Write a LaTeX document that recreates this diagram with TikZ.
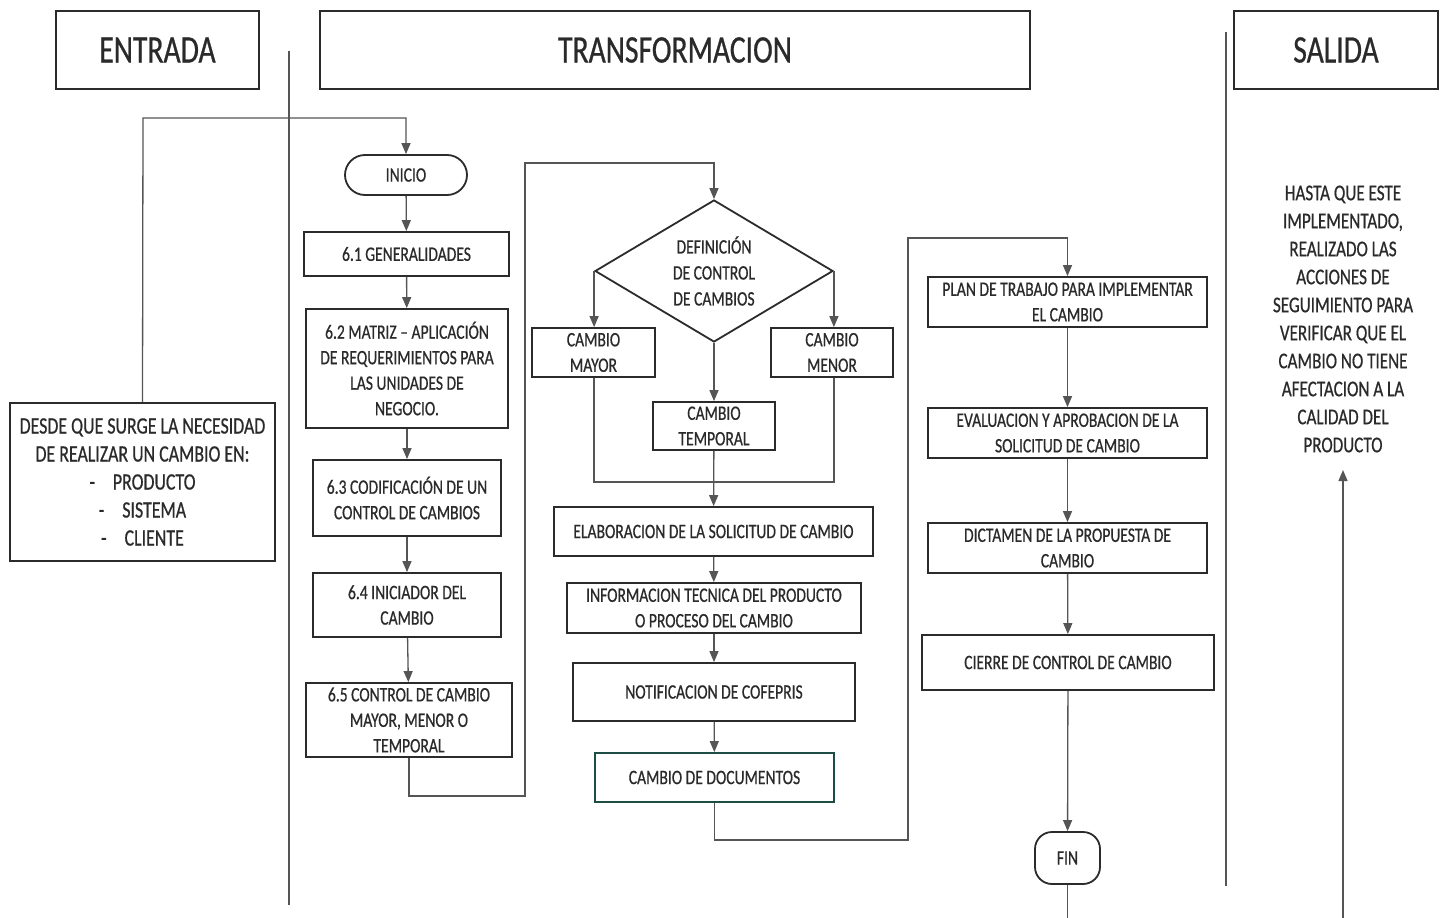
\documentclass[tikz,border=0pt]{standalone}
\usepackage{fontspec}
\setmainfont{Carlito}[FakeStretch=0.76,FakeBold=0.6]
\usetikzlibrary{shapes.geometric,arrows.meta,calc}
\definecolor{boxc}{HTML}{2B2B2B}
\definecolor{linec}{HTML}{555555}
\definecolor{txt}{HTML}{2A2A2A}
\definecolor{docsc}{HTML}{1E4D45}
\begin{document}
\begin{tikzpicture}[x=1pt,y=-1pt,
  box/.style={draw=boxc, line width=1.8pt, text=txt, align=center, inner sep=0pt,
    font=\fontsize{20.5}{25.5}\selectfont},
  head/.style={box, font=\fontsize{39}{44}\selectfont},
  conn/.style={draw=linec, line width=1.3pt},
  arr/.style={conn, -{Triangle[length=11pt,width=9pt]}},
  sepline/.style={draw=linec, line width=1.4pt},
]
\useasboundingbox (0,0) rectangle (1444,918);
\clip (0,0) rectangle (1444,918);
\fill[white] (0,0) rectangle (1444,918);

% headers
\node[head, minimum width=203pt, minimum height=78pt] (hEnt) at (157.5,50) {ENTRADA};
\node[head, minimum width=710pt, minimum height=78pt] (hTra) at (675,50) {TRANSFORMACION};
\node[head, minimum width=204pt, minimum height=78pt] (hSal) at (1336,50) {SALIDA};

% separator lines
\coordinate (s1a) at (289,51); \coordinate (s1b) at (289,905);
\coordinate (s2a) at (1226,32); \coordinate (s2b) at (1226,886);
\draw[sepline] (s1a) -- (s1b);
\draw[sepline] (s2a) -- (s2b);

% entrada
\node[box, minimum width=265pt, minimum height=158pt, font=\fontsize{23.5}{28}\selectfont] (desde) at (142.5,482)
  {DESDE QUE SURGE LA NECESIDAD\\DE REALIZAR UN CAMBIO EN:\\-\hspace{18pt}PRODUCTO\\-\hspace{18pt}SISTEMA\\-\hspace{18pt}CLIENTE};

% column 1
\node[box, minimum width=122pt, minimum height=40pt, rounded corners=20pt] (inicio) at (406,175) {INICIO};
\node[box, minimum width=205pt, minimum height=44pt] (g61) at (406.5,254) {6.1 GENERALIDADES};
\node[box, minimum width=202pt, minimum height=119pt] (g62) at (407,368.5) {6.2 MATRIZ -- APLICACIÓN\\DE REQUERIMIENTOS PARA\\LAS UNIDADES DE\\NEGOCIO.};
\node[box, minimum width=188pt, minimum height=76pt] (g63) at (407,498) {6.3 CODIFICACIÓN DE UN\\CONTROL DE CAMBIOS};
\node[box, minimum width=188pt, minimum height=64pt] (g64) at (407,605) {6.4 INICIADOR DEL\\CAMBIO};
\node[box, minimum width=206pt, minimum height=74pt] (g65) at (409,720) {6.5 CONTROL DE CAMBIO\\MAYOR, MENOR O\\TEMPORAL};

% column 2
\node[box, diamond, aspect=1.68, minimum width=238pt, minimum height=142pt, font=\fontsize{20.5}{26}\selectfont] (dia) at (714,271) {DEFINICIÓN\\DE CONTROL\\DE CAMBIOS};
\node[box, minimum width=123pt, minimum height=49pt] (mayor) at (593.5,352.5) {CAMBIO\\MAYOR};
\node[box, minimum width=122pt, minimum height=49pt] (menor) at (832,352.5) {CAMBIO\\MENOR};
\node[box, minimum width=122pt, minimum height=48pt] (temporal) at (714,426) {CAMBIO\\TEMPORAL};
\node[box, minimum width=319pt, minimum height=49pt] (elab) at (713.5,531.5) {ELABORACION DE LA SOLICITUD DE CAMBIO};
\node[box, minimum width=294pt, minimum height=50pt] (info) at (714,608) {INFORMACION TECNICA DEL PRODUCTO\\O PROCESO DEL CAMBIO};
\node[box, minimum width=282pt, minimum height=58pt] (notif) at (714,692) {NOTIFICACION DE COFEPRIS};
\node[box, draw=docsc, minimum width=239pt, minimum height=49pt] (docs) at (714.5,777.5) {CAMBIO DE DOCUMENTOS};

% column 3
\node[box, minimum width=279pt, minimum height=50pt] (plan) at (1067.5,302) {PLAN DE TRABAJO PARA IMPLEMENTAR\\EL CAMBIO};
\node[box, minimum width=279pt, minimum height=50pt] (eval) at (1067.5,433) {EVALUACION Y APROBACION DE LA\\SOLICITUD DE CAMBIO};
\node[box, minimum width=279pt, minimum height=50pt] (dict) at (1067.5,548) {DICTAMEN DE LA PROPUESTA DE\\CAMBIO};
\node[box, minimum width=292pt, minimum height=55pt] (cierre) at (1068,662.5) {CIERRE DE CONTROL DE CAMBIO};
\node[box, minimum width=65pt, minimum height=52pt, rounded corners=17pt] (fin) at (1067.5,858) {FIN};

% salida text
\node[text=txt, align=center, inner sep=0pt, font=\fontsize{22.5}{28}\selectfont] (saltxt) at (1343,319)
  {HASTA QUE ESTE\\IMPLEMENTADO,\\REALIZADO LAS\\ACCIONES DE\\SEGUIMIENTO PARA\\VERIFICAR QUE EL\\CAMBIO NO TIENE\\AFECTACION A LA\\CALIDAD DEL\\PRODUCTO};

% connectors
\coordinate (c1) at (143,118);
\draw[arr] (desde.north) -- (c1) -| (inicio.north);
\draw[arr] (inicio) -- (g61);
\draw[arr] (g61) -- (g62);
\draw[arr] (g62) -- (g63);
\draw[arr] (g63) -- (g64);
\draw[arr] (g64) -- (g65);

\coordinate (k1) at (525,796);
\coordinate (k2) at (525,163);
\draw[arr] (g65.south) |- (k1) -- (k2) -| (dia.north);

\draw[arr] (dia.west) -- (dia.west |- mayor.north);
\draw[arr] (dia.east) -- (dia.east |- menor.north);
\draw[arr] (dia.south) -- (temporal.north);
\coordinate (mrg) at (714,482);
\draw[conn] (mayor.south -| dia.west) |- (mrg) -| (menor.south -| dia.east);
\draw[arr] (temporal) -- (elab);
\draw[arr] (elab) -- (info);
\draw[arr] (info) -- (notif);
\draw[arr] (notif) -- (docs);

\coordinate (k3) at (908,840);
\coordinate (k4) at (908,238);
\draw[arr] (docs.south) |- (k3) -- (k4) -| (plan.north);
\draw[arr] (plan) -- (eval);
\draw[arr] (eval) -- (dict);
\draw[arr] (dict) -- (cierre);
\draw[arr] (cierre) -- (fin);

\coordinate (bot) at (1067.5,935);
\coordinate (salin) at (1343,470);
\draw[arr] (fin.south) -- (bot) -| (salin);
\end{tikzpicture}
\end{document}
